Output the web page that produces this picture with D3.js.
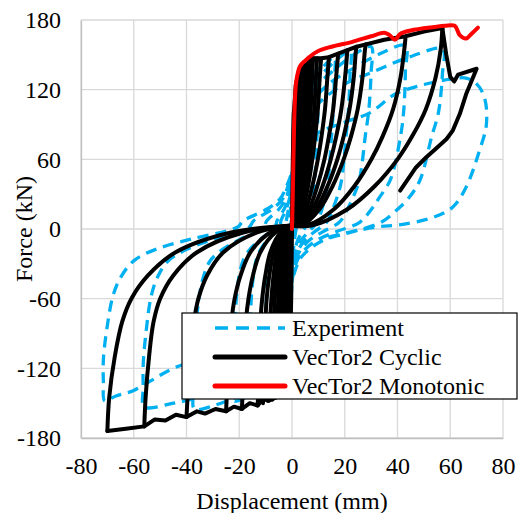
<!DOCTYPE html>
<html>
<head>
<meta charset="utf-8">
<script src="https://cdn.jsdelivr.net/npm/d3@7"></script>
<style>
  html, body { margin: 0; padding: 0; background: #fff; }
  text { font-family: "Liberation Serif", "Times New Roman", serif; }
</style>
</head>
<body>
<svg id="chart" width="518" height="513"></svg>
<script>
// ---------- data ----------
const xTicks = [-80, -60, -40, -20, 0, 20, 40, 60, 80];
const yTicks = [-180, -120, -60, 0, 60, 120, 180];
const xLabel = "Displacement (mm)";
const yLabel = "Force (kN)";
const seriesNames = ["Experiment", "VecTor2 Cyclic", "VecTor2 Monotonic"];

// Experiment (test) hysteresis, in drawing order
const experimentPts = [
 [0,0],[0.5,30],[1.2,55],[2,70],[1.9,50],[1.5,25],[0.8,5],[0.2,-10],[-0.5,-30],[-1.2,-55],[-2,-70],[-1.9,-50],[-1.5,-25],[-0.8,-5],[-0.2,10],
 [0.3,35],[1,60],[2.5,90],[4,108],[5,115],[4.9,95],[4.5,70],[3.8,40],[3,18],[2,5],[1,-8],[0.3,-25],[-0.3,-45],[-1,-65],[-2.5,-90],[-4,-103],[-5,-110],[-4.9,-90],[-4.5,-65],[-3.8,-38],[-3,-18],[-2,-5],[-1,8],[-0.3,25],
 [0.3,50],[1,75],[3,105],[5.5,122],[8,133],[10,138],[10,119],[9.7,90],[9.3,72],[8.5,37],[7.7,23],[7,15],[6,5],[4,-2],[2.3,-9],[1.2,-17],[0.5,-26],[0.1,-40],[-0.3,-60],[-1.2,-93],[-3,-113],[-5.5,-124],[-8,-130],[-10,-133],[-10.1,-118],[-10.1,-101],[-9.9,-74],[-9.5,-51],[-9.1,-37],[-8.4,-24],[-7.2,-15],[-5.4,-8],[-2.9,1.5],[-1.35,17],[-0.6,26],[-0.2,40],
 [0.5,59],[1.6,92],[4.8,115],[8.8,130],[12.8,142],[16,148],[16,127],[15.5,96],[14.9,77],[13.6,40],[12.3,25],[11.2,16],[9.6,6],[6.4,-2],[3.7,-9],[1.9,-17],[0.8,-26],[0.16,-40],[-0.5,-64],[-1.9,-100],[-4.8,-122],[-8.8,-133],[-12.8,-140],[-16,-143],[-16.1,-127],[-16.1,-109],[-15.8,-80],[-15.3,-55],[-14.6,-40],[-13.5,-26],[-11.5,-16],[-8.6,-8],[-4.6,1.7],[-4.2,7],[-2.2,17],[-1,26],[-0.3,40],
 [0.7,61],[2.2,95],[6.6,119],[12.1,135],[17.6,147],[22,153],[22,132],[21.3,99],[20.5,80],[18.7,41],[16.9,26],[15.4,17],[13.2,6],[8.8,-2],[5.1,-9],[2.6,-17],[1.1,-26],[0.2,-40],[-0.7,-67],[-2.6,-104],[-6.6,-126],[-12.1,-138],[-17.6,-145],[-22,-148],[-22.2,-132],[-22.2,-112],[-21.7,-83],[-21,-57],[-20.1,-41],[-18.5,-27],[-15.8,-17],[-11.8,-8.6],[-6.4,1.7],[-5.7,7],[-3,17],[-1.4,26],[-0.4,40],
 [0.9,63],[3,97],[9,122],[16.5,138],[24,151],[30,157],[30,135],[29.1,102],[27.9,82],[25.5,42],[23.1,27],[21,17],[18,6],[12,-2],[6.9,-9],[3.6,-17],[1.5,-26],[0.3,-40],[-1.1,-70],[-4.4,-108],[-11.1,-132],[-20.4,-144],[-29.6,-152],[-37,-155],[-37.3,-138],[-37.3,-118],[-36.5,-87],[-35.3,-60],[-33.8,-43],[-31.2,-28],[-26.6,-18],[-19.8,-9],[-10.7,1.7],[-9.6,7],[-5,17],[-2.3,26],[-0.7,40],
 [1.3,63],[4.3,98],[12.9,123],[23.7,139],[34.4,152],[43,158],[43,136],[42.4,103],[41.3,82],[37.4,43],[33.1,27],[30.1,17],[25.8,6],[17.2,-2],[9.9,-9],[5.2,-17],[2.2,-26],[0.4,-40],[-1.7,-69],[-6.7,-107],[-16.8,-130],[-30.8,-142],[-44.8,-150],[-56,-153],[-56.4,-136],[-56.4,-116],[-55.2,-86],[-53.5,-59],[-51.1,-42],[-47.2,-28],[-40.3,-18],[-30,-9],[-16.2,1.7],[-14.6,7],[-7.6,17],[-3.5,26],[-1.1,40],
 [1.7,62],[5.7,96],[17.1,121],[31.4,136],[45.6,149],[57,155],[57,133],[55.5,100],[53,80],[48.5,42],[44,26],[40,17],[34,6],[22,-3],[13,-8.6],[6.8,-17],[3,-26],[0.6,-40],[-2,-60],[-10,-90],[-25,-105],[-45,-120],[-60,-139],[-67,-144],[-71,-148],[-71.5,-132],[-71.5,-112],[-70,-83],[-67.8,-57],[-64.8,-41],[-59.8,-27],[-51,-17],[-38,-8.6],[-20.6,1.7],[-18.5,7],[-9.6,17],[-4.5,26],[-1.5,40],
 [2,60],[8,80],[20,92],[29.5,100],[39,116],[48.5,123.5],[60,129],[66,130],[70,125],[73,113],[73.7,90],[71,67],[66,36],[61,19],[53.5,10],[42,4],[32,1.7],[22,-2.6],[12,-8]
];

// VecTor2 cyclic: positive-side branches (origin <-> positive peak)
const cyclicPosBranches = [
 [[0,3],[7.4,3],[21,17],[31.4,37],[40,60],[45.6,80],[50.7,103],[54.4,130],[56.4,155],[57,173]],
 [[0,3],[5.6,3],[15.9,17],[23.7,37],[30.1,60],[34.4,80],[38.3,103],[41.1,130],[42.6,155],[43,164]],
 [[0,3],[3.6,3],[10.4,17],[15.4,37],[19.6,60],[22.4,80],[24.9,103],[26.7,130],[27.7,155],[28,159]],
 [[0,3],[3.2,3],[9.1,17],[13.5,37],[17.2,60],[19.6,80],[21.8,103],[23.4,130],[24.3,155],[24.5,157]],
 [[0,3],[2.7,3],[7.8,17],[11.6,37],[14.7,60],[16.8,80],[18.7,103],[20.1,130],[21,154]],
 [[0,3],[2.3,3],[6.5,17],[9.6,37],[12.3,60],[14,80],[15.6,103],[16.7,130],[17.5,151]],
 [[0,3],[1.8,3],[5.2,17],[7.7,37],[9.8,60],[11.2,80],[12.5,103],[13.4,130],[14,148]],
 [[0,3],[1.4,3],[4.1,17],[6.1,37],[7.7,60],[8.8,80],[9.8,103],[10.5,130],[11,146]],
 [[0,3],[1.24,3],[3.5,17],[5.2,37],[6.65,60],[7.6,80],[8.46,103],[9.07,130],[9.5,147]],
 [[0,3],[1,3],[3,17],[4.4,37],[5.6,60],[6.4,80],[7.1,103],[7.6,130],[8,147]],
 [[0,3],[0.91,3],[2.6,17],[3.85,37],[4.9,60],[5.6,80],[6.23,103],[6.69,130],[7,146.5]],
 [[0,3],[0.8,3],[2.2,17],[3.3,37],[4.2,60],[4.8,80],[5.3,103],[5.7,130],[6,146]],
 [[0,3],[0.65,3],[1.85,17],[2.75,37],[3.5,60],[4,80],[4.45,103],[4.78,130],[5,144]],
 [[0,3],[0.5,3],[1.5,17],[2.2,37],[2.8,60],[3.2,80],[3.6,103],[3.8,130],[4,142]],
 [[0,3],[0.39,3],[1.1,17],[1.65,37],[2.1,60],[2.4,80],[2.67,103],[2.87,130],[3,139]],
 [[0,3],[0.3,3],[0.9,17],[1.4,37],[1.75,60],[2,80],[2.2,103],[2.4,130],[2.5,135]],
 [[0,3],[0.55,17],[0.8,37],[1.05,60],[1.2,80],[1.33,103],[1.5,125]],
 [[0,3],[0.26,17],[0.39,37],[0.49,60],[0.56,80],[0.7,100]]
];

// VecTor2 cyclic: negative-side branches (origin <-> negative peak)
const cyclicNegBranches = [
 [[0,3],[-23.1,-3],[-44.1,-20],[-54.6,-40],[-60.9,-60],[-64.4,-80],[-67.2,-110],[-69.3,-145],[-70,-174]],
 [[0,3],[-18.5,-3],[-36,-20],[-45,-40],[-50,-60],[-52.5,-80],[-54.2,-110],[-55.5,-145],[-56,-170]],
 [[0,3],[-13.2,-3],[-26,-20],[-32.2,-40],[-35.5,-60],[-37.2,-80],[-38.6,-110],[-39.6,-145],[-40,-162]],
 [[0,3],[-8.25,-3],[-15.75,-20],[-19.5,-40],[-21.75,-60],[-23,-80],[-24,-110],[-24.75,-145],[-25,-157]],
 [[0,3],[-6.3,-3],[-12,-20],[-14.8,-40],[-16.5,-60],[-17.5,-80],[-18.2,-110],[-18.8,-145],[-19,-155]],
 [[0,3],[-4.3,-3],[-8.2,-20],[-10.1,-40],[-11.3,-60],[-12,-80],[-12.5,-110],[-12.9,-145],[-13,-152]],
 [[0,3],[-3.6,-3],[-6.9,-20],[-8.6,-40],[-9.6,-60],[-10.1,-80],[-10.6,-110],[-10.9,-145],[-11,-150]],
 [[0,3],[-3,-3],[-5.7,-20],[-7,-40],[-7.8,-60],[-8.3,-80],[-8.6,-110],[-8.9,-140],[-9,-148]],
 [[0,3],[-2.5,-3],[-4.7,-20],[-5.85,-40],[-6.5,-60],[-6.9,-80],[-7.2,-110],[-7.42,-140],[-7.5,-147]],
 [[0,3],[-2,-3],[-3.8,-20],[-4.7,-40],[-5.2,-60],[-5.5,-80],[-5.8,-110],[-6,-145]],
 [[0,3],[-1.65,-3],[-3.15,-20],[-3.9,-40],[-4.35,-60],[-4.6,-80],[-4.8,-110],[-5,-143]],
 [[0,3],[-1.3,-3],[-2.5,-20],[-3.1,-40],[-3.5,-60],[-3.7,-80],[-3.84,-110],[-4,-141]],
 [[0,3],[-1,-3],[-1.9,-20],[-2.34,-40],[-2.6,-60],[-2.76,-80],[-2.88,-110],[-3,-138]],
 [[0,3],[-0.8,-3],[-1.6,-20],[-1.95,-40],[-2.2,-60],[-2.3,-80],[-2.4,-110],[-2.5,-135]],
 [[0,3],[-0.5,-3],[-0.95,-20],[-1.17,-40],[-1.3,-60],[-1.38,-80],[-1.44,-110],[-1.5,-125]],
 [[0,3],[-0.23,-3],[-0.44,-20],[-0.55,-40],[-0.61,-60],[-0.64,-80],[-0.7,-100]]
];

// VecTor2 cyclic: backbone segments between peaks and the final excursion
const cyclicPosEnvelope = [[0,0],[0.3,60],[0.7,100],[1.5,125],[2.5,135],[4,142],[6,146],[8,147],[11,147],[14,148],[17.5,151],[21,154],[24.5,157],[28,159],[35,163],[43,166],[50,170],[57,173]];
const cyclicNegEnvelope = [[0,0],[-0.3,-60],[-0.7,-100],[-1.5,-125],[-2.5,-135],[-4,-141],[-6,-145],[-9,-148],[-11,-146],[-13,-152],[-16,-150],[-19,-155],[-22,-153],[-25,-157],[-29,-155],[-33,-159],[-36,-157],[-40,-162],[-44,-160],[-48,-165],[-52,-164],[-56,-170],[-63,-172],[-70,-174]];
const cyclicFinal = [[57,173],[58.5,150],[60,131],[61.5,127],[63,133],[70,138],[66,116],[63.6,99],[61,85],[58.6,77.5],[54,68],[51,62],[47,53],[41,33]];

// VecTor2 monotonic
const monotonicPts = [[0,0],[0.3,30],[0.8,90],[1.1,110],[1.6,127],[3,140],[5,145],[9.8,153],[15,157],[22.6,161],[30,166],[35,169],[37,167],[39,163],[41,168],[45,171],[54,174],[58,175],[61.7,175],[63.6,167],[66,164],[68,168],[70.5,173.5]];

// ---------- drawing ----------
const FS = 24;
const svg = d3.select("#chart");
const x = d3.scaleLinear().domain([-80, 80]).range([81, 503]);
const y = d3.scaleLinear().domain([-180, 180]).range([438, 20]);

const gridColor = "#d9d9d9";
const gGrid = svg.append("g");
gGrid.selectAll("line.v").data(xTicks).enter().append("line")
  .attr("x1", d => x(d)).attr("x2", d => x(d))
  .attr("y1", y(180)).attr("y2", y(-180))
  .attr("stroke", gridColor).attr("stroke-width", 1.3);
gGrid.selectAll("line.h").data(yTicks).enter().append("line")
  .attr("x1", x(-80)).attr("x2", x(80))
  .attr("y1", d => y(d)).attr("y2", d => y(d))
  .attr("stroke", gridColor).attr("stroke-width", 1.3);

// axes (labels only, no tick marks); plain hyphen for negatives
const fmt = d => String(d);
const xAxis = d3.axisBottom(x).tickValues(xTicks).tickSize(0).tickPadding(0).tickFormat(fmt);
const gx = svg.append("g").attr("transform", `translate(0,${y(-180)})`).call(xAxis);
gx.select(".domain").attr("stroke", "#bfbfbf").attr("stroke-width", 1.3);
gx.selectAll("text").attr("font-size", FS).attr("fill", "#000")
  .attr("font-family", "Liberation Serif, serif").attr("dy", "1.52em");

const yAxis = d3.axisLeft(y).tickValues(yTicks).tickSize(0).tickPadding(20).tickFormat(fmt);
const gy = svg.append("g").attr("transform", `translate(${x(-80)},0)`).call(yAxis);
gy.select(".domain").attr("stroke", "#bfbfbf").attr("stroke-width", 1.3);
gy.selectAll("text").attr("font-size", FS).attr("fill", "#000")
  .attr("font-family", "Liberation Serif, serif").attr("dy", "0.33em");

svg.append("text").attr("x", 292).attr("y", 509).attr("text-anchor", "middle")
  .attr("font-size", FS).text(xLabel);
svg.append("text").attr("transform", "translate(32,229) rotate(-90)")
  .attr("text-anchor", "middle").attr("font-size", FS).text(yLabel);

const smooth = d3.line().x(d => x(d[0])).y(d => y(d[1])).curve(d3.curveCatmullRom.alpha(0.5));
const straight = d3.line().x(d => x(d[0])).y(d => y(d[1]));

const plot = svg.append("g");
// experiment
plot.append("path").attr("d", smooth(experimentPts))
  .attr("fill", "none").attr("stroke", "#00b0f0").attr("stroke-width", 3.3)
  .attr("stroke-dasharray", "11,7").attr("stroke-linejoin", "round");

// cyclic
const blk = plot.append("g").attr("fill", "none").attr("stroke", "#000")
  .attr("stroke-width", 4).attr("stroke-linejoin", "round").attr("stroke-linecap", "round");
blk.selectAll("path.pb").data(cyclicPosBranches).enter().append("path").attr("d", d => smooth(d));
blk.selectAll("path.nb").data(cyclicNegBranches).enter().append("path").attr("d", d => smooth(d));
blk.append("path").attr("d", straight(cyclicPosEnvelope));
blk.append("path").attr("d", straight(cyclicNegEnvelope));
blk.append("path").attr("d", straight(cyclicFinal));

// monotonic
plot.append("path").attr("d", smooth(monotonicPts))
  .attr("fill", "none").attr("stroke", "#ff0000").attr("stroke-width", 4)
  .attr("stroke-linejoin", "round").attr("stroke-linecap", "round");

// legend
const lg = svg.append("g");
lg.append("rect").attr("x", 182).attr("y", 313).attr("width", 335).attr("height", 86)
  .attr("fill", "#fff").attr("stroke", "#000").attr("stroke-width", 1.2);
const legendStyles = [
  {stroke: "#00b0f0", dash: "13,8", w: 3.5},
  {stroke: "#000", dash: null, w: 5},
  {stroke: "#ff0000", dash: null, w: 5}
];
seriesNames.forEach((name, i) => {
  const yy = 328 + i * 29;
  const s = legendStyles[i];
  lg.append("line").attr("x1", 215).attr("x2", 285).attr("y1", yy).attr("y2", yy)
    .attr("stroke", s.stroke).attr("stroke-width", s.w)
    .attr("stroke-dasharray", s.dash).attr("stroke-linecap", s.dash ? "butt" : "round");
  lg.append("text").attr("x", 292).attr("y", yy).attr("dy", "0.33em")
    .attr("font-size", FS).text(name);
});
</script>
</body>
</html>
